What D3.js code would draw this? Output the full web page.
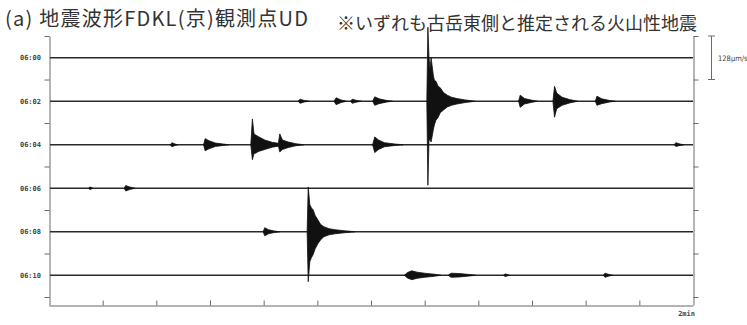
<!DOCTYPE html>
<html>
<head>
<meta charset="utf-8">
<script src="https://cdn.jsdelivr.net/npm/d3@7"></script>
<style>
  html, body { margin: 0; padding: 0; background: #fff; }
  svg { display: block; }
</style>
</head>
<body>
<svg id="chart" width="747" height="325"></svg>
<script>
// Trace rows: one per two-minute window, labelled by start time
const traceMinutes = [0, 2, 4, 6, 8, 10];
const traceLabels = ["06:00", "06:02", "06:04", "06:06", "06:08", "06:10"];
// Frame ticks sit halfway between traces
const rowTickMinutes = [-1, 1, 3, 5, 7, 9, 11];
// Time ticks along each 2-minute trace (seconds)
const secondTicks = d3.range(0, 121, 10);
const scaleBarAmp = 128; // µm/s

// Events: trace minute, and envelope samples [second, upward µm/s, downward µm/s]
const eventMinute = [2, 2, 2, 2, 2, 2, 2, 2,
                     4, 4, 4, 4, 4, 4,
                     6, 6,
                     8, 8,
                     10, 10, 10, 10];
const eventEnvelope = [
  // 06:02
  [[46.4, 0, 0], [46.8, 6, 6], [47.6, 2, 2], [48.4, 0, 0]],
  [[53.1, 0, 0], [53.5, 10, 10], [54.4, 4, 4], [55.4, 0, 0]],
  [[56.2, 0, 0], [56.5, 6, 6], [57.4, 2, 2], [58.2, 0, 0]],
  [[60.3, 0, 0], [60.7, 13, 12], [61.5, 7, 7], [63.0, 2, 2], [64.0, 0, 0]],
  [[70.4, 0, 0], [70.6, 218, 247], [70.8, 132, 118], [71.0, 95, 110], [71.2, 128, 120], [71.6, 78, 85],
   [71.8, 62, 70], [72.1, 59, 56], [72.5, 44, 48], [72.9, 40, 34], [73.5, 26, 26], [74.2, 18, 17],
   [75.0, 12, 12], [76.0, 8, 8], [77.5, 4, 4], [79.4, 0, 0]],
  [[87.5, 0, 0], [87.8, 18, 18], [88.6, 8, 8], [90.0, 3, 3], [91.0, 0, 0]],
  [[93.9, 0, 0], [94.2, 44, 47], [94.6, 24, 22], [95.6, 12, 12], [97.0, 5, 5], [98.5, 0, 0]],
  [[101.8, 0, 0], [102.1, 15, 12], [103.0, 7, 7], [104.5, 2, 2], [105.5, 0, 0]],
  // 06:04
  [[22.6, 0, 0], [22.9, 6, 6], [23.5, 2, 2], [24.0, 0, 0]],
  [[28.8, 0, 0], [29.1, 18, 18], [29.8, 12, 12], [31.0, 5, 5], [32.5, 2, 2], [33.5, 0, 0]],
  [[37.6, 0, 0], [37.9, 76, 44], [38.2, 32, 26], [38.6, 28, 24], [39.0, 24, 20], [40.2, 14, 14],
   [41.6, 7, 7], [43.3, 3, 3], [45.0, 0, 0]],
  [[42.7, 0, 0], [43.0, 32, 21], [43.5, 14, 14], [44.6, 8, 8], [46.0, 3, 3], [47.5, 0, 0]],
  [[60.3, 0, 0], [60.7, 23, 23], [61.4, 14, 14], [62.5, 6, 6], [64.5, 2, 2], [66.0, 0, 0]],
  [[116.5, 0, 0], [116.8, 6, 5], [117.6, 2, 2], [118.3, 0, 0]],
  // 06:06
  [[7.4, 0, 0], [7.6, 4, 4], [8.2, 0, 0]],
  [[14.0, 0, 0], [14.3, 8, 8], [15.0, 4, 4], [16.0, 0, 0]],
  // 06:08
  [[39.9, 0, 0], [40.2, 12, 12], [40.9, 6, 6], [42.0, 2, 2], [43.0, 0, 0]],
  [[48.1, 0, 0], [48.3, 132, 147], [48.6, 80, 88], [48.9, 70, 76], [49.2, 65, 68], [49.6, 48, 50],
   [50.1, 35, 35], [50.6, 22, 24], [51.2, 15, 15], [52.2, 9, 9], [53.3, 6, 6], [55.0, 3, 3], [57.0, 0, 0]],
  // 06:10
  [[66.2, 0, 0], [66.8, 8, 8], [67.6, 13, 13], [68.6, 9, 9], [70.0, 6, 6], [71.8, 3, 3], [73.0, 0, 0]],
  [[74.4, 0, 0], [74.9, 6, 6], [76.5, 5, 5], [78.4, 2, 2], [79.5, 0, 0]],
  [[84.7, 0, 0], [85.0, 4, 4], [85.8, 0, 0]],
  [[103.3, 0, 0], [103.6, 6, 6], [104.4, 2, 2], [105.0, 0, 0]]
];

const svg = d3.select("#chart");
const frameLeft = 49, frameRight = 693, frameTop = 36, frameBottom = 305;

// Horizontal: seconds within a trace
const x = d3.scaleLinear().domain([0, 120]).range([frameLeft, frameRight]);
// Vertical: minute of the trace start
const minuteStep = 21.75;
const y = d3.scaleLinear()
  .domain([-1, -1 + (frameBottom - frameTop) / minuteStep])
  .range([frameTop, frameBottom]);
// Amplitude: 128 µm/s spans one trace spacing
const amp = d3.scaleLinear().domain([0, scaleBarAmp]).range([0, 2 * minuteStep]);

const axisColor = "#6a6a6a";

// Frame axes
const leftAxis = d3.axisLeft(y).tickValues(rowTickMinutes).tickSizeInner(5).tickSizeOuter(0).tickFormat("");
const rightAxis = d3.axisRight(y).tickValues(rowTickMinutes).tickSizeInner(5).tickSizeOuter(0).tickFormat("");
const bottomAxis = d3.axisBottom(x).tickValues(secondTicks.slice(1, -1)).tickSizeInner(-5).tickSizeOuter(0).tickFormat("");

function styleAxis(g) {
  g.selectAll("path, line").attr("stroke", axisColor).attr("stroke-width", 1);
}
svg.append("g").attr("transform", `translate(${frameLeft + 0.5},0)`).call(leftAxis).call(styleAxis);
svg.append("g").attr("transform", `translate(${frameRight + 0.5},0)`).call(rightAxis).call(styleAxis);
svg.append("g").attr("transform", `translate(0,${frameBottom + 0.5})`).call(bottomAxis).call(styleAxis);

// Trace time labels
svg.append("g").selectAll("text").data(traceMinutes).join("text")
  .attr("x", 41).attr("y", d => y(d) + 2.5)
  .attr("text-anchor", "end")
  .attr("font-family", "'DejaVu Sans Mono', monospace")
  .attr("font-weight", "bold")
  .attr("font-size", 7)
  .attr("fill", "#444")
  .text((d, i) => traceLabels[i]);

// Baselines
svg.append("g").selectAll("line").data(traceMinutes).join("line")
  .attr("x1", frameLeft + 1).attr("x2", frameRight)
  .attr("y1", d => y(d)).attr("y2", d => y(d))
  .attr("stroke", "#2a2a2a").attr("stroke-width", 1.6);

// Event envelopes
const area = d3.area()
  .x(d => x(d[0]))
  .y0(d => amp(d[2]))
  .y1(d => -amp(d[1]));

svg.append("g").selectAll("path").data(eventEnvelope).join("path")
  .attr("transform", (d, i) => `translate(0,${y(eventMinute[i])})`)
  .attr("d", area)
  .attr("fill", "#111")
  .attr("stroke", "#111")
  .attr("stroke-width", 0.8)
  .attr("stroke-linejoin", "round");

// Amplitude scale bar
const sbX = 711.5;
const sbTop = frameTop, sbBottom = frameTop + amp(scaleBarAmp);
const sb = svg.append("g").attr("stroke", axisColor).attr("stroke-width", 1);
sb.append("line").attr("x1", sbX).attr("x2", sbX).attr("y1", sbTop).attr("y2", sbBottom);
sb.append("line").attr("x1", sbX - 3.5).attr("x2", sbX + 3.5).attr("y1", sbTop).attr("y2", sbTop);
sb.append("line").attr("x1", sbX - 3.5).attr("x2", sbX + 3.5).attr("y1", sbBottom).attr("y2", sbBottom);
svg.append("text")
  .attr("x", 718).attr("y", (sbTop + sbBottom) / 2 + 3)
  .attr("font-family", "'DejaVu Sans Condensed', 'DejaVu Sans', sans-serif")
  .attr("font-size", 7.5)
  .attr("fill", "#444")
  .text(scaleBarAmp + "µm/s");

// Time span label
svg.append("text")
  .attr("x", frameRight + 2).attr("y", 316)
  .attr("text-anchor", "end")
  .attr("font-family", "'DejaVu Sans Mono', monospace")
  .attr("font-weight", "bold")
  .attr("font-size", 7)
  .attr("fill", "#444")
  .text("2min");

// Titles
svg.append("text")
  .attr("x", 5).attr("y", 26)
  .attr("font-family", "'Noto Sans CJK JP', 'Noto Sans', sans-serif")
  .attr("font-weight", 400)
  .attr("font-size", 20)
  .attr("textLength", 303)
  .attr("lengthAdjust", "spacing")
  .attr("fill", "#333")
  .text("(a) 地震波形FDKL(京)観測点UD");

svg.append("text")
  .attr("x", 337).attr("y", 30)
  .attr("font-family", "'Noto Sans CJK JP', 'Noto Sans', sans-serif")
  .attr("font-weight", 400)
  .attr("font-size", 18)
  .attr("fill", "#333")
  .text("※いずれも古岳東側と推定される火山性地震");
</script>
</body>
</html>
